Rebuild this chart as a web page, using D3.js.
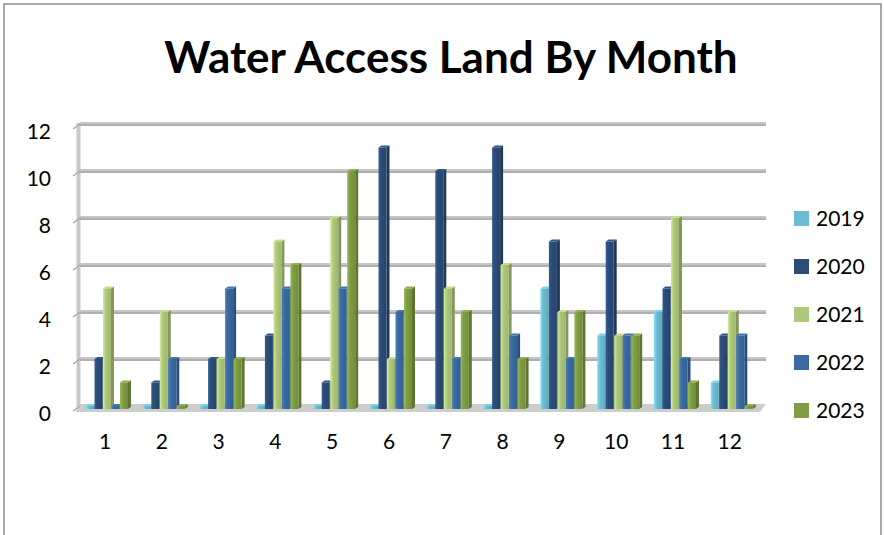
<!DOCTYPE html>
<html>
<head>
<meta charset="utf-8">
<script src="https://cdn.jsdelivr.net/npm/d3@7"></script>
<style>
  body { margin: 0; background: #fff; }
  svg { display: block; font-family: Lato, "Open Sans", sans-serif; }
</style>
</head>
<body>
<svg id="chart" width="884" height="535"></svg>
<script>
const months = ['1', '2', '3', '4', '5', '6', '7', '8', '9', '10', '11', '12'];
const years = ['2019', '2020', '2021', '2022', '2023'];
const v2019 = [0, 0, 0, 0, 0, 0, 0, 0, 5, 3, 4, 1];
const v2020 = [2, 1, 2, 3, 1, 11, 10, 11, 7, 7, 5, 3];
const v2021 = [5, 4, 2, 7, 8, 2, 5, 6, 4, 3, 8, 4];
const v2022 = [0, 2, 5, 5, 5, 4, 2, 3, 2, 3, 2, 3];
const v2023 = [1, 0, 2, 6, 10, 5, 4, 2, 4, 3, 1, 0];
const yTicks = [0, 2, 4, 6, 8, 10, 12];
const colors = ['#6cbdd1', '#2b4c78', '#afc97b', '#3a6aa1', '#7f9d44'];

const series = [v2019, v2020, v2021, v2022, v2023];
const rows = months.map((m, i) => {
  const r = { month: m };
  years.forEach((yr, j) => { r[yr] = series[j][i]; });
  return r;
});

const svg = d3.select('#chart');

// chart area border
svg.append('rect')
  .attr('x', 4).attr('y', 4).attr('width', 877).attr('height', 560)
  .attr('fill', 'none').attr('stroke', '#8c8c8c').attr('stroke-width', 1.5);

// title
svg.append('text')
  .attr('x', 451).attr('y', 73)
  .attr('text-anchor', 'middle')
  .style('font-size', '44px').style('font-weight', 'bold')
  .text('Water Access Land By Month');

const x0 = d3.scaleBand().domain(months).range([76.6, 758.2]);
const x1 = d3.scaleBand().domain(years).range([9.4, 9.4 + 5 * 8.5]);
const y = d3.scaleLinear().domain([0, 12]).range([406, 124]);

// gradients for bar faces
const defs = svg.append('defs');
colors.forEach((c, i) => {
  const g = defs.append('linearGradient').attr('id', 'g' + i)
    .attr('x1', '0%').attr('x2', '100%').attr('y1', '0%').attr('y2', '0%');
  g.append('stop').attr('offset', '0%').attr('stop-color', d3.color(c).brighter(0.5));
  g.append('stop').attr('offset', '35%').attr('stop-color', c);
  g.append('stop').attr('offset', '100%').attr('stop-color', d3.color(c).darker(0.3));
});

// left wall
svg.append('rect')
  .attr('x', 76.5).attr('y', y(12) - 1).attr('width', 4).attr('height', y(0) - y(12) + 6)
  .attr('fill', '#c9c9c9');

// floor
const fx0 = 76, fx1 = 766;
svg.append('polygon')
  .attr('points', `${fx0 + 4},${y(0) - 2} ${fx1},${y(0) - 2} ${fx1 - 6},${y(0) + 6} ${fx0},${y(0) + 6}`)
  .attr('fill', '#cdcdcd');

// gridlines on the back wall
const grid = svg.append('g');
grid.selectAll('line.g')
  .data(yTicks.filter(d => d > 0))
  .enter().append('line')
  .attr('x1', 80).attr('x2', 766)
  .attr('y1', d => y(d)).attr('y2', d => y(d))
  .attr('stroke', '#c6c6c6').attr('stroke-width', 4);
grid.selectAll('line.c')
  .data(yTicks.filter(d => d > 0))
  .enter().append('line')
  .attr('x1', 80).attr('x2', 766)
  .attr('y1', d => y(d) + 1).attr('y2', d => y(d) + 1)
  .attr('stroke', '#9a9a9a').attr('stroke-width', 1);
grid.selectAll('path.t')
  .data(yTicks)
  .enter().append('path')
  .attr('d', d => `M73,${y(d) + 5}L80,${y(d)}`)
  .attr('stroke', '#a8a8a8').attr('stroke-width', 1.5).attr('fill', 'none');

// bars
const depth = 3;
const bw = 8;
const groups = svg.append('g').selectAll('g')
  .data(rows)
  .enter().append('g')
  .attr('transform', d => `translate(${x0(d.month)},0)`);

const bars = groups.selectAll('g.bar')
  .data(d => years.map((yr, j) => ({ key: yr, j, value: d[yr] })))
  .enter().append('g').attr('class', 'bar');

const barTop = d => Math.min(y(d.value), y(0) + 1);
const barBottom = y(0) + 3;

bars.append('polygon')
  .attr('points', d => {
    const xs = x1(d.key) + bw;
    const t = barTop(d);
    return `${xs},${t} ${xs + depth},${t - 2} ${xs + depth},${barBottom - 2} ${xs},${barBottom}`;
  })
  .attr('fill', d => d3.color(colors[d.j]).darker(0.8));

bars.append('polygon')
  .attr('points', d => {
    const xs = x1(d.key);
    const t = barTop(d);
    return `${xs},${t} ${xs + depth},${t - 2} ${xs + bw + depth},${t - 2} ${xs + bw},${t}`;
  })
  .attr('fill', d => d3.color(colors[d.j]).brighter(0.3));

bars.append('rect')
  .attr('x', d => x1(d.key))
  .attr('y', d => barTop(d))
  .attr('width', bw)
  .attr('height', d => barBottom - barTop(d))
  .attr('fill', d => `url(#g${d.j})`);

// y axis labels
const yAxis = svg.append('g')
  .attr('transform', 'translate(51,8)')
  .call(d3.axisLeft(y).tickValues(yTicks).tickSize(0).tickPadding(0));
yAxis.select('.domain').remove();
yAxis.selectAll('text')
  .style('font-size', '21px').style('font-family', 'Lato, sans-serif').attr('fill', '#000');

// x axis labels
const xAxis = svg.append('g')
  .attr('transform', 'translate(0,426)')
  .call(d3.axisBottom(x0).tickSize(0).tickPadding(8));
xAxis.select('.domain').remove();
xAxis.selectAll('text')
  .style('font-size', '21px').style('font-family', 'Lato, sans-serif').attr('fill', '#000');

// legend
const legend = svg.append('g').selectAll('g')
  .data(years)
  .enter().append('g')
  .attr('transform', (d, i) => `translate(794,${211 + i * 48})`);
legend.append('rect')
  .attr('width', 15).attr('height', 15)
  .attr('fill', (d, i) => colors[i]);
legend.append('text')
  .attr('x', 22).attr('y', 7.5).attr('dy', '0.36em')
  .style('font-size', '21px')
  .text(d => d);
</script>
</body>
</html>
